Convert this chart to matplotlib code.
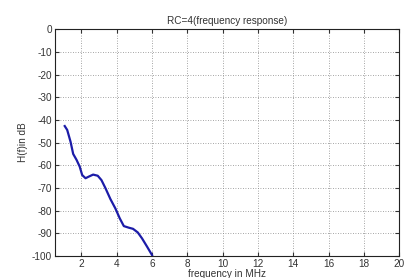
import matplotlib
matplotlib.use("Agg")
import matplotlib.pyplot as plt

freq_mhz = [1.05, 1.19, 1.38, 1.53, 1.72, 1.90, 2.04, 2.23, 2.41, 2.66, 2.92, 3.13,
            3.36, 3.64, 3.92, 4.17, 4.40, 4.68, 4.92, 5.19, 5.43, 5.72, 6.00]
h_db = [-42.7, -44.4, -49.6, -55.0, -57.6, -60.6, -64.3, -65.7, -65.0, -64.1, -64.6, -66.5,
        -70.1, -74.9, -79.0, -83.4, -86.8, -87.5, -88.0, -89.6, -92.2, -95.9, -99.6]
xticks = [2, 4, 6, 8, 10, 12, 14, 16, 18, 20]
yticks = [0, -10, -20, -30, -40, -50, -60, -70, -80, -90, -100]

plt.rcParams['font.family'] = ['Liberation Sans', 'DejaVu Sans']
fig = plt.figure(figsize=(4.06, 2.78), dpi=100)
ax = fig.add_axes([0.1355, 0.079, 0.8475, 0.816])
ax.plot(freq_mhz, h_db, color='#1c1ca8', linewidth=1.6)
ax.set_xlim(0.5, 20)
ax.set_ylim(-100, 0)
ax.set_xticks(xticks)
ax.set_yticks(yticks)
ax.set_xticklabels([str(t) for t in xticks])
ax.set_yticklabels([str(t) for t in yticks])
ax.grid(True, linestyle=(0, (1, 2)), color='#888888', linewidth=0.6)
ax.tick_params(direction='in', top=True, right=True, labelsize=7.2, length=3,
               colors='#333333', pad=2)
for s in ax.spines.values():
    s.set_linewidth(0.8)
    s.set_color('#222222')
ax.set_title('RC=4(frequency response)', fontsize=7.2, color='#333333', pad=4)
ax.set_xlabel('frequency in MHz', fontsize=7.2, color='#333333', labelpad=0)
ax.set_ylabel('H(f)in dB', fontsize=7.2, color='#333333', labelpad=3)
fig.savefig('out.png', dpi=100)
